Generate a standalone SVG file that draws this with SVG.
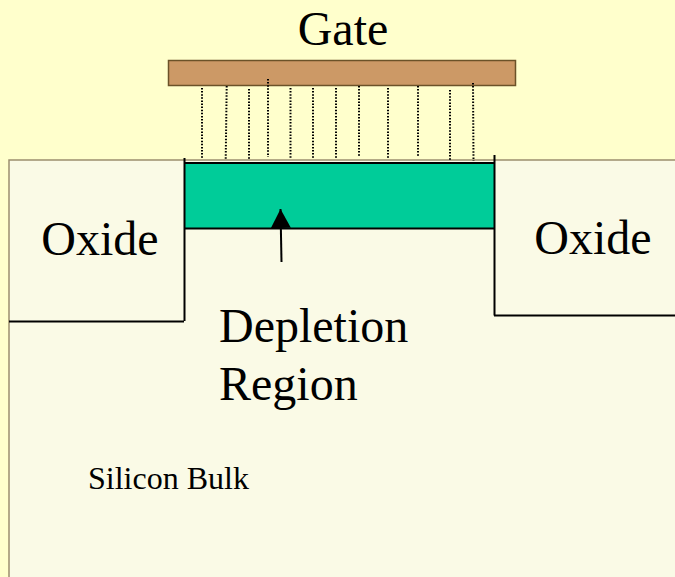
<svg xmlns="http://www.w3.org/2000/svg" width="675" height="577" viewBox="0 0 675 577">
<style>
text{font-family:"Liberation Serif","Times New Roman",serif;fill:#000}
.big{font-size:48px}
.dot{stroke:#000;stroke-width:2;stroke-dasharray:1.5 1.6;fill:none}
.blk{stroke:#000;fill:none;stroke-width:2}
</style>
<defs><marker id="ah" markerUnits="userSpaceOnUse" markerWidth="20" markerHeight="20" refX="19" refY="10" orient="auto"><path d="M0 0L19 10L0 20Z" fill="#000"/></marker></defs>
<rect width="675" height="577" fill="#ffffcc"/>
<g id="bulk"><path d="M680 585H9V160H680Z" fill="#fafae6" stroke="#9c8f6e" stroke-width="1.5"/></g>
<g id="gate"><rect x="168.500" y="60.500" width="347" height="25" fill="#cc9966" stroke="#6b5228" stroke-width="1.500"/></g>
<g id="gate-label"><text class="big" x="343" y="45" text-anchor="middle">Gate</text></g>
<g id="depletion"><rect x="184.500" y="163" width="310" height="65" fill="#00cc99"/></g>
<g id="connectors">
<path class="dot" d="M202 88V159M226.700 86L225.700 160M249 89V159M268 79V157M290.500 88V159M313 88V159M336 88V159M359 86V156M388 88V159M418 86V156M450 90V160M473 83L473.500 161"/>
<path class="blk" d="M184.500 158V321M184 163H494.500M184 228.500H494.500M494.500 155V315.500M9 321.500H184M494 315.500H675"/>
<path d="M281.500 262L280.500 209" stroke="#000" stroke-width="2" fill="none" marker-end="url(#ah)"/>
</g>
<g id="oxide-left"><text class="big" x="100" y="255" text-anchor="middle">Oxide</text></g>
<g id="oxide-right"><text class="big" x="593" y="254" text-anchor="middle">Oxide</text></g>
<g id="depletion-label"><text class="big" x="219" y="342">Depletion</text><text class="big" x="219" y="400">Region</text></g>
<g id="bulk-label"><text x="88" y="489" font-size="32">Silicon Bulk</text></g>
</svg>
